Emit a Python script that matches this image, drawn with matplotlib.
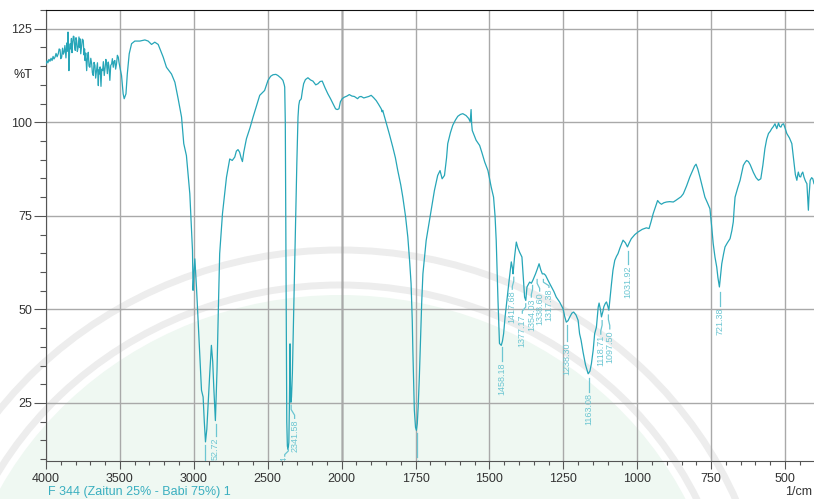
import numpy as np
import matplotlib
matplotlib.use("Agg")
import matplotlib.pyplot as plt
from matplotlib.patches import Ellipse, Arc
from matplotlib.ticker import FixedLocator

plt.rcParams['font.family'] = ['Liberation Sans', 'DejaVu Sans']

# -----------------------------
# Spectrum (wavenumber 1/cm, %T)
# -----------------------------
# noisy part 4000-3500
wn_noise = [
    4000, 3993, 3987, 3980, 3973, 3966, 3959, 3952, 3946, 3939,
    3932, 3925, 3917, 3911, 3905, 3900, 3894, 3888, 3883, 3878,
    3872, 3865, 3859, 3855, 3851, 3847, 3845, 3840, 3836, 3833,
    3828, 3824, 3820, 3815, 3811, 3806, 3802, 3797, 3793, 3788,
    3782, 3777, 3773, 3770, 3765, 3759, 3754, 3748, 3743, 3739,
    3736, 3731, 3725, 3720, 3714, 3709, 3703, 3697, 3691, 3686,
    3680, 3675, 3669, 3664, 3658, 3652, 3646, 3643, 3640, 3634,
    3628, 3623, 3617, 3612, 3606, 3600, 3595, 3590, 3585, 3579,
    3574, 3568, 3562, 3556, 3551, 3545, 3540, 3534, 3529, 3523,
    3517, 3511, 3506, 3500,
]
t_noise = [
    115.6, 116.4, 115.9, 116.8, 116.3, 117.1, 116.5, 117.6, 116.9, 117.4,
    118.4, 117.5, 118.3, 119.6, 119.4, 117.0, 117.4, 119.8, 118.2, 118.7,
    120.5, 117.2, 121.2, 119.0, 124.1, 118.5, 113.8, 119.5, 121.0, 119.6,
    122.4, 118.6, 121.0, 123.0, 122.9, 120.2, 119.2, 122.6, 121.9, 118.9,
    120.1, 122.8, 120.0, 122.3, 118.3, 120.5, 122.2, 121.9, 118.0, 119.6,
    116.5, 118.5, 113.8, 117.0, 118.7, 115.0, 114.7, 117.1, 115.6, 113.2,
    112.5, 116.0, 115.2, 111.8, 113.8, 115.9, 109.8, 114.0, 112.9, 114.8,
    109.6, 114.2, 113.8, 116.2, 112.5, 114.6, 116.8, 115.6, 113.0, 116.1,
    114.9, 111.2, 115.2, 115.6, 117.0, 114.7, 116.2, 116.5, 114.2, 115.6,
    117.9, 117.4, 116.0, 114.7,
]
wn_main = [
    3489, 3478, 3471, 3459, 3450, 3437, 3421, 3399, 3365, 3331, 3309, 3286, 3264, 3241, 3207,
    3185, 3151, 3128, 3106, 3083, 3068, 3050, 3027, 3016, 3009, 3005, 2999, 2993, 2982,
    2970, 2960, 2948, 2937, 2929, 2921, 2912, 2903, 2892, 2881, 2872, 2865, 2854, 2843,
    2834, 2825, 2806, 2779, 2757, 2740, 2723, 2712, 2701, 2690, 2680, 2671, 2662, 2644,
    2620, 2599, 2575, 2554, 2521, 2498, 2480, 2464, 2445, 2431, 2410, 2397, 2388, 2385,
    2381, 2379, 2376, 2374, 2371, 2367, 2362, 2357, 2353, 2349, 2346, 2343, 2339, 2333,
    2325, 2318, 2311, 2303, 2295, 2290, 2284, 2278, 2273, 2265, 2257, 2245, 2228, 2210,
    2194, 2175, 2160, 2145, 2131, 2112, 2093, 2075, 2059, 2041, 2030, 2018, 2008, 1998,
    1991, 1982, 1974, 1965, 1957, 1950, 1946, 1940, 1934, 1925, 1917, 1908, 1900, 1892,
    1883, 1875, 1866, 1863, 1861, 1855, 1850, 1838, 1827, 1818, 1810, 1800, 1793, 1784,
    1776, 1770, 1765, 1761, 1759, 1756, 1754, 1750, 1747, 1744, 1741, 1737, 1733, 1729,
    1725, 1714, 1697, 1686, 1675, 1667, 1660, 1652, 1645, 1641, 1632, 1624, 1615, 1607,
    1598, 1590, 1579, 1570, 1565, 1562, 1560, 1558, 1552, 1545, 1533, 1525, 1516, 1505,
    1494, 1486, 1481, 1477, 1474, 1471, 1468, 1466, 1460, 1456, 1452, 1447, 1441, 1433,
    1426, 1422, 1420, 1415, 1409, 1404, 1398, 1390, 1385, 1381, 1377, 1373, 1364, 1358,
    1353, 1344, 1338, 1332, 1326, 1321, 1315, 1310, 1300, 1290, 1282, 1274, 1262, 1251,
    1245, 1240, 1234, 1228, 1221, 1215, 1207, 1200, 1195, 1190, 1183, 1175, 1166, 1160,
    1155, 1149, 1144, 1138, 1132, 1129, 1125, 1121, 1116, 1113, 1108, 1104, 1100, 1096,
    1092, 1087, 1082, 1076, 1070, 1065, 1058, 1048, 1040, 1033, 1027, 1020, 1008, 997,
    983, 969, 960, 953, 946, 938, 931, 925, 918, 910, 901, 890, 878, 870,
    861, 852, 844, 833, 822, 811, 806, 801, 795, 788, 780, 771, 762, 754,
    748, 743, 737, 731, 727, 722, 718, 714, 708, 703, 695, 686, 680, 675,
    672, 669, 660, 652, 641, 635, 630, 624, 618, 607, 598, 590, 582, 575,
    568, 562, 556, 550, 545, 540, 534, 528, 522, 518, 514, 510, 505, 500,
    494, 485, 477, 473, 469, 465, 460, 457, 455, 451, 447, 444, 440, 436,
    432, 429, 426, 423, 421, 419, 415, 410, 406, 402,
]
t_main = [
    112.5, 107.6, 106.3, 107.6, 112.9, 118.3, 121.0, 121.7, 121.7, 122.0, 121.7, 120.8, 121.4, 120.8, 117.4,
    114.7, 112.9, 110.7, 106.3, 101.4, 94.3, 91.1, 80.9, 72.0, 65.8, 55.1, 60.0, 63.5, 56.0,
    46.0, 38.2, 28.4, 26.6, 20.0, 14.6, 18.0, 24.8, 33.0, 40.4, 36.0, 29.3, 20.3, 33.7,
    50.0, 64.9, 75.6, 85.3, 90.2, 89.8, 90.7, 92.3, 92.7, 92.0, 90.5, 89.5, 92.0, 95.6,
    98.5, 101.4, 104.5, 107.2, 108.5, 111.2, 112.3, 112.7, 112.8, 112.5, 111.8, 111.2, 110.0, 109.4,
    100.0, 83.6, 60.0, 39.1, 20.0, 13.5, 12.6, 14.5, 25.0, 40.8, 30.0, 25.2, 26.6, 33.0,
    48.0, 62.0, 74.7, 89.0, 101.4, 104.5, 105.8, 106.0, 106.3, 108.5, 110.3, 111.4, 111.9, 111.3,
    111.0, 110.0, 110.3, 110.9, 111.0, 109.2, 107.6, 106.3, 105.0, 103.6, 103.4, 103.6, 105.5, 106.3,
    106.7, 107.0, 107.4, 107.0, 106.9, 106.5, 106.3, 106.8, 106.9, 106.5, 106.7, 106.9, 107.2, 106.6,
    105.8, 104.8, 103.6, 102.8, 103.2, 101.5, 100.1, 96.7, 93.4, 90.5, 87.1, 83.3, 80.0, 75.0,
    69.3, 63.0, 56.9, 47.0, 39.1, 30.0, 23.1, 18.5, 17.7, 19.5, 24.0, 32.0, 42.0, 52.0,
    59.5, 68.4, 76.5, 81.8, 85.8, 87.1, 84.9, 85.8, 90.5, 94.3, 97.2, 99.2, 100.6, 101.6,
    102.1, 102.3, 101.8, 101.0, 100.1, 103.4, 99.5, 97.8, 96.6, 95.2, 93.8, 91.8, 89.4, 87.1,
    82.7, 80.0, 75.0, 68.4, 60.0, 52.4, 45.0, 40.9, 40.4, 41.5, 43.5, 48.0, 52.4, 58.0,
    62.7, 61.0, 59.5, 64.0, 68.0, 66.5, 65.3, 64.0, 58.0, 53.3, 52.4, 56.0, 57.3, 57.0,
    57.8, 59.5, 60.8, 62.2, 60.5, 59.5, 59.5, 59.1, 57.5, 56.0, 54.8, 53.3, 51.9, 50.2,
    48.0, 46.6, 47.0, 48.0, 49.0, 49.3, 48.5, 47.1, 43.5, 41.8, 38.5, 35.2, 32.8, 33.5,
    35.5, 39.1, 43.5, 45.3, 50.6, 51.7, 50.2, 48.0, 49.5, 50.7, 51.6, 52.0, 51.0, 49.8,
    53.0, 56.9, 60.5, 63.1, 64.2, 64.9, 66.5, 68.5, 67.8, 66.7, 67.8, 68.9, 70.0, 70.7,
    71.4, 71.8, 71.6, 73.5, 75.6, 77.5, 79.1, 78.5, 78.1, 78.5, 78.7, 78.8, 78.7, 79.1,
    79.6, 80.1, 80.9, 83.0, 85.4, 87.4, 88.3, 88.8, 87.5, 85.4, 82.8, 80.0, 78.4, 76.9,
    72.0, 67.6, 64.0, 61.3, 58.5, 56.0, 59.0, 62.2, 64.8, 66.7, 67.8, 68.9, 71.0, 73.4,
    77.0, 80.0, 82.5, 84.5, 88.5, 89.3, 89.8, 89.5, 88.7, 86.6, 85.2, 84.5, 84.9, 88.5,
    93.0, 95.5, 97.0, 97.6, 98.3, 98.8, 99.6, 98.3, 99.8, 98.9, 98.7, 99.4, 99.6, 98.5,
    97.0, 95.8, 94.3, 91.5, 88.9, 86.0, 84.5, 86.0, 86.7, 85.5, 85.4, 86.2, 86.7, 85.4,
    84.5, 84.0, 83.6, 79.0, 76.5, 80.0, 84.5, 85.2, 84.9, 83.6,
]
wavenumber = wn_noise + wn_main
transmittance = t_noise + t_main

# peak labels (text as it shows, partly cut off at the bottom axis)
peak_wn = [2922.16, 2852.72, 2360.44, 2341.58, 1745.51, 1458.18, 1417.68, 1377.17, 1354.03,
           1338.60, 1317.38, 1238.30, 1163.08, 1118.71, 1097.50, 1031.92, 721.38]
peak_text = ["", "52.72", "4", "2341.58", "51", "1458.18", "1417.68", "1377.17", "1354.03",
             "1338.60", "1317.38", "1238.30", "1163.08", "1118.71", "1097.50", "1031.92", "721.38"]
text_wn = [2922.16, 2852.72, 2385, 2318, 1745.51, 1458.18, 1422.6, 1388.7, 1358.2,
           1330.1, 1298.6, 1238.30, 1163.08, 1123.3, 1092.8, 1031.92, 721.38]
peak_line_top = [13.8, 19.3, 12.9, 24.4, 17.0, 39.9, 58.6, 51.5, 56.4,
                 58.0, 58.0, 45.8, 31.6, 47.0, 48.5, 65.7, 54.6]
peak_text_top = [9.6, 15.8, 10.5, 20.6, 10.2, 35.9, 55.1, 48.7, 53.0,
                 54.6, 55.6, 41.2, 27.6, 43.1, 44.5, 61.8, 50.6]

x_major = [4000, 3500, 3000, 2500, 2000, 1750, 1500, 1250, 1000, 750, 500]
y_major = [25, 50, 75, 100, 125]

LINE = "#27a6b8"
LABEL = "#6cc6d2"


# x axis is expanded 2x below 2000 1/cm
def fwd(x):
    x = np.asarray(x, dtype=float)
    return np.where(x > 2000, 2000 + (x - 2000) / 2.0, x)


def inv(u):
    u = np.asarray(u, dtype=float)
    return np.where(u > 2000, 2000 + (u - 2000) * 2.0, u)


fig = plt.figure(figsize=(8.14, 4.99), dpi=100)

# faint watermark behind everything
bg = fig.add_axes([0, 0, 1, 1], zorder=0)
bg.set_xlim(0, 814)
bg.set_ylim(499, 0)
bg.axis("off")
bg.add_patch(Ellipse((340, 660), 770, 730, color="#eff8f2", lw=0))
bg.add_patch(Arc((340, 660), 860, 820, theta1=180, theta2=360, color="#ededed", lw=5))
bg.add_patch(Arc((340, 660), 790, 750, theta1=180, theta2=360, color="#ededed", lw=5))

ax = fig.add_axes([46 / 814, 38 / 499, 768 / 814, 451 / 499], zorder=1)
ax.patch.set_alpha(0)
ax.set_xscale("function", functions=(fwd, inv))
ax.set_xlim(4000, 402)
ax.set_ylim(9.5, 130)

ax.xaxis.set_major_locator(FixedLocator(x_major))
ax.xaxis.set_minor_locator(FixedLocator(
    [v for v in list(range(4000, 2000, -100)) + list(range(2000, 400, -50)) if v not in x_major]))
ax.yaxis.set_major_locator(FixedLocator(y_major))
ax.yaxis.set_minor_locator(FixedLocator([v for v in range(10, 131, 5) if v not in y_major]))
ax.set_xticklabels([str(v) for v in x_major])
ax.set_yticklabels([str(v) for v in y_major])

ax.grid(True, which="major", color="#a9a9a9", lw=1.0)
ax.axvline(2000, color="#222222", lw=1.0, zorder=1.5)

for s in ["left", "bottom"]:
    ax.spines[s].set_color("#555555")
ax.spines["top"].set_color("#111111")
ax.spines["right"].set_visible(False)

ax.tick_params(axis="x", which="major", length=6, width=0.8, color="#555555",
               labelsize=9, labelcolor="#333333", pad=3)
ax.tick_params(axis="x", which="minor", length=3, width=0.8, color="#555555")
ax.tick_params(axis="y", which="major", length=9, width=0.8, color="#555555",
               labelsize=9, labelcolor="#333333", pad=1)
ax.tick_params(axis="y", which="minor", length=4, width=0.8, color="#555555")

ax.plot(wavenumber, transmittance, color=LINE, lw=0.9, zorder=3)

for wn, txt, twn, lt, tt in zip(peak_wn, peak_text, text_wn, peak_line_top, peak_text_top):
    d = lt - tt
    ax.plot([wn, wn, twn, twn], [lt, lt - 0.3 * d, lt - 0.7 * d, tt + 0.3],
            color=LABEL, lw=0.9, zorder=3, clip_on=True)
    if txt:
        ax.text(twn, tt, txt, rotation=90, ha="center", va="top", fontsize=6.5,
                color=LABEL, clip_on=True, zorder=3)

fig.text(14 / 814, 1 - 75 / 499, "%T", fontsize=9, color="#222222", va="center", ha="left")
fig.text(48 / 814, 1 - 492 / 499, "F 344 (Zaitun 25% - Babi 75%) 1", fontsize=9,
         color="#3aafc0", va="center", ha="left")
fig.text(812 / 814, 1 - 492 / 499, "1/cm", fontsize=9, color="#333333", va="center", ha="right")

fig.savefig("out.png", dpi=100)
